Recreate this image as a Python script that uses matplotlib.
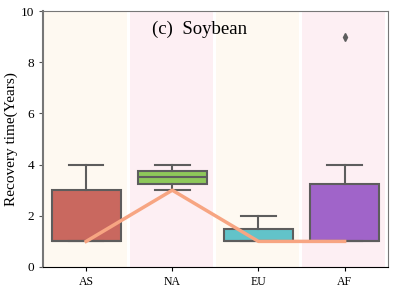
import matplotlib
matplotlib.use("Agg")
import matplotlib.pyplot as plt

plt.rcParams.update({"font.family": "serif",
                     "font.serif": ["Liberation Serif", "DejaVu Serif"]})

# box statistics per region (Recovery time, years)
regions = ["AS", "NA", "EU", "AF"]
q1 = [1, 3.25, 1, 1]
med = [1, 3.5, 1, 1]
q3 = [3, 3.75, 1.5, 3.25]
whis_lo = [1, 3, 1, 1]
whis_hi = [4, 4, 2, 4]
outliers = [[], [], [], [9]]
line_vals = [1, 3, 1, 1]

box_colors = ["#c9685f", "#8ec85a", "#62c3c9", "#a064c9"]
band_colors = ["#fef9f1", "#fdeff3", "#fef9f1", "#fdeff3"]
edge = "#5d5d5d"

fig = plt.figure(figsize=(3.95, 3.06), dpi=100)
ax = fig.add_axes([0.109, 0.1275, 0.8725, 0.8365])

for i, c in enumerate(band_colors):
    ax.axvspan(i - 0.49, i + 0.47, color=c, lw=0, zorder=0)

stats = [dict(label=r, q1=a, med=m, q3=b, whislo=lo, whishi=hi, fliers=f)
         for r, a, m, b, lo, hi, f in zip(regions, q1, med, q3, whis_lo, whis_hi, outliers)]
bp = ax.bxp(stats, positions=range(len(regions)), widths=0.8, patch_artist=True,
            capwidths=0.4,
            boxprops=dict(edgecolor=edge, linewidth=1.5),
            whiskerprops=dict(color=edge, linewidth=1.5),
            capprops=dict(color=edge, linewidth=1.5),
            medianprops=dict(color=edge, linewidth=1.5),
            flierprops=dict(marker="d", markersize=4, markerfacecolor=edge,
                            markeredgecolor=edge))
for patch, c in zip(bp["boxes"], box_colors):
    patch.set_facecolor(c)
    patch.set_zorder(2)

ax.plot(range(len(regions)), line_vals, color="#f7a582", lw=2.5, zorder=3)

ax.set_xlim(-0.5, 3.5)
ax.set_ylim(0, 10)
ax.set_xticks(range(len(regions)))
ax.set_xticklabels(regions, fontsize=8.5)
ax.set_yticks([0, 2, 4, 6, 8, 10])
ax.tick_params(axis="y", labelsize=9.5, length=3, color="#555555")
ax.tick_params(axis="x", length=3)
ax.set_ylabel("Recovery time(Years)", fontsize=11, labelpad=2)
for s in ["left", "right", "top"]:
    ax.spines[s].set_color("#777777")
ax.spines["left"].set_linewidth(1.5)
ax.spines["bottom"].set_color("black")

ax.text(0.316, 0.93, "(c)  Soybean", transform=ax.transAxes, fontsize=13.5,
        ha="left", va="center")

fig.savefig("out.png", dpi=100)
